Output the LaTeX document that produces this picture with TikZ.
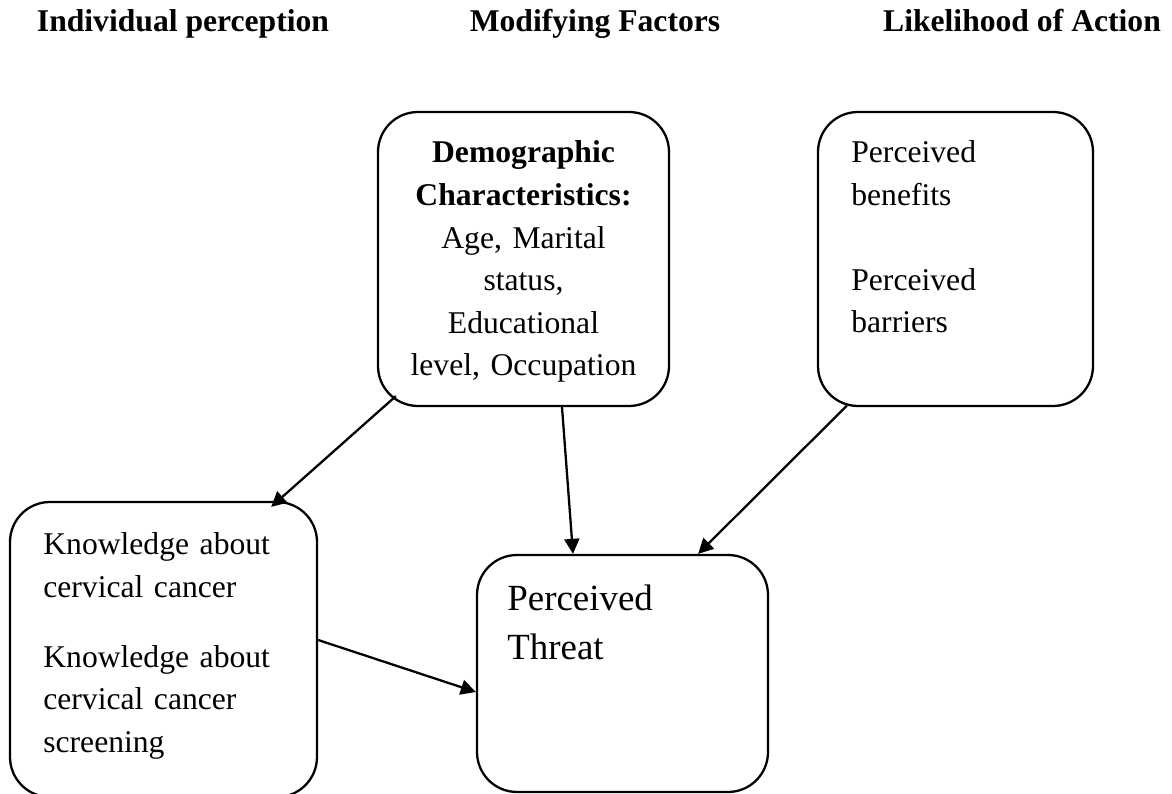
\documentclass[tikz,border=0pt]{standalone}
\usepackage{fontspec}
\setmainfont{Liberation Serif}
\usetikzlibrary{arrows.meta}

\begin{document}
\begin{tikzpicture}[every node/.style={font=\fontsize{18}{24.2}\selectfont}, >={Triangle[length=3mm, width=3mm]},
	box/.style={draw, line width=1.3pt, rounded corners=0.8cm, inner sep=0pt},
	head/.style={font=\fontsize{18}{24.2}\selectfont\bfseries, anchor=base},
	boxtext/.style={inner sep=0pt, text width=5.6cm},
	link/.style={->, line width=1.3pt}]
	\useasboundingbox (0,0) rectangle (23.44,15.88);
	% column titles
	\node[head] (hperc) at (3.66,15.24) {Individual perception};
	\node[head] (hmod) at (11.9,15.24) {Modifying Factors};
	\node[head] (hlike) at (20.44,15.24) {Likelihood of Action};
	% boxes
	\node[box, minimum width=5.82cm, minimum height=5.88cm] (demo) at (10.47,10.70) {};
	\node[box, minimum width=5.5cm, minimum height=5.88cm] (benefit) at (19.11,10.70) {};
	\node[box, minimum width=6.14cm, minimum height=5.9cm] (know) at (3.27,2.89) {};
	\node[box, minimum width=5.82cm, minimum height=4.74cm] (threat) at (12.45,2.41) {};
	% box texts
	\node[boxtext, anchor=base, align=center] (demotext) at (10.47,12.62) {\textbf{Demographic}\\ \textbf{Characteristics:}\\ Age, Marital\\ status,\\ Educational\\ level, Occupation};
	\node[boxtext, anchor=base west, align=left] (benefittext) at (17.02,12.62) {Perceived\\ benefits\\[24pt] Perceived\\ barriers};
	\node[boxtext, anchor=base west, align=left] (knowtext) at (0.86,4.78) {Knowledge about\\ cervical cancer\\[15.6pt] Knowledge about\\ cervical cancer\\ screening};
	\node[boxtext, anchor=base west, align=left, font=\fontsize{21}{27.8}\selectfont] (threattext) at (10.14,3.66) {Perceived\\ Threat};
	% arrows
	\draw[link] ([xshift=0.38cm, yshift=0.22cm]demo.south west) -- ([xshift=-0.94cm, yshift=-0.12cm]know.north east);
	\draw[link] ([xshift=0.77cm]demo.south) -- ([xshift=-0.99cm]threat.north);
	\draw[link] ([xshift=0.6cm, yshift=0.03cm]benefit.south west) -- ([xshift=-1.42cm]threat.north east);
	\draw[link] ([yshift=0.19cm]know.east) -- ([yshift=-0.37cm]threat.west);
\end{tikzpicture}
\end{document}
